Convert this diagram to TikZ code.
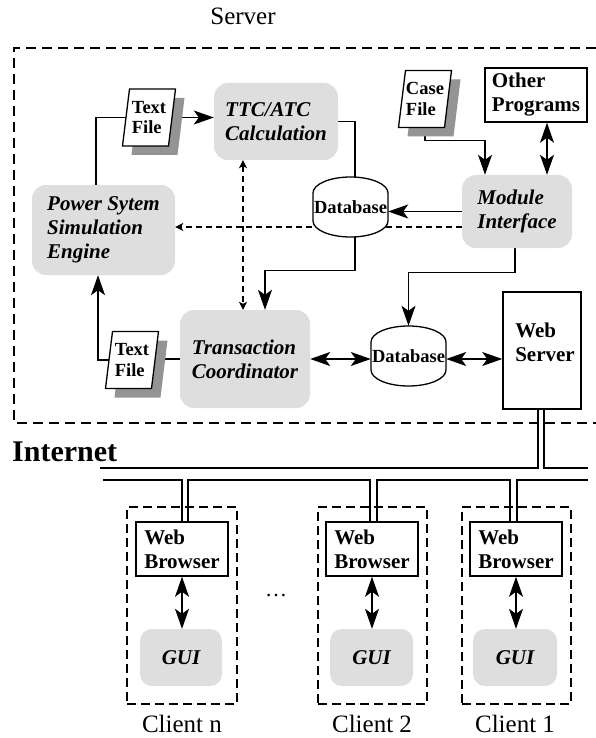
\documentclass[tikz,border=0pt]{standalone}
\usepackage{fontspec}
\setmainfont{Liberation Serif}
\usetikzlibrary{arrows.meta,backgrounds,calc}
\newcommand\docfile[4]{%
  \fill[docshade] (#2-19.5+9,#3-28.5+9) -- (#2+26.5+9,#3-28.5+9) -- (#2+19.5+9,#3+28.5+9) -- (#2-26.5+9,#3+28.5+9) -- cycle;
  \filldraw[docline] (#2-19.5,#3-28.5) -- (#2+26.5,#3-28.5) -- (#2+19.5,#3+28.5) -- (#2-26.5,#3+28.5) -- cycle;
  \node[doctext] (#1) at (#2,#3) {#4};}
\newcommand\dbshape[3]{%
  \filldraw[line width=1.3pt,fill=white] (#2-37.5,#3-14) arc[start angle=180,end angle=0,x radius=37.5pt,y radius=16pt] -- (#2+37.5,#3+14) arc[start angle=0,end angle=-180,x radius=37.5pt,y radius=16pt] -- cycle;
  \node[dbtext] (#1) at (#2,#3) {Database};}
\begin{document}
\begin{tikzpicture}[x=1pt,y=-1pt,
  >={Stealth[length=20pt,width=14pt,inset=5pt]},
  conn/.style={line width=1.3pt},
  dconn/.style={line width=1.3pt,dash pattern=on 6pt off 4pt},
  stip/.style={arrows={-Stealth[length=8pt,width=8pt,inset=2pt]}},
  dstip/.style={arrows={Stealth[length=8pt,width=8pt,inset=2pt]-Stealth[length=8pt,width=8pt,inset=2pt]}},
  gbox/.style={fill=black!13, rounded corners=14pt, inner sep=0pt, align=left, font=\fontsize{21}{24}\selectfont\bfseries\itshape},
  wbox/.style={draw, line width=1.5pt, fill=white, inner sep=0pt, align=left, font=\fontsize{21}{24}\selectfont\bfseries},
  btext/.style={inner sep=0pt, align=left, font=\fontsize{21}{24}\selectfont\bfseries},
  cbox/.style={draw, line width=1.5pt, dash pattern=on 9pt off 5pt, inner sep=0pt},
  lbl/.style={inner sep=0pt, font=\fontsize{25}{30}\selectfont},
  docshade/.style={fill=black!42},
  docline/.style={draw, line width=1.3pt, fill=white},
  doctext/.style={inner sep=0pt, minimum width=46pt, minimum height=57pt, align=left, font=\fontsize{18.5}{20.5}\selectfont\bfseries},
  dbtext/.style={inner sep=0pt, minimum width=75pt, minimum height=60pt, font=\fontsize{18.5}{20}\selectfont\bfseries},
  wire/.style={double, double distance=4.3pt, line width=2.2pt},
  inetline/.style={line width=2.5pt}
]
\useasboundingbox (0,0) rectangle (596,738);

% ---------- labels ----------
\node[inner sep=0pt, font=\fontsize{25}{25}\selectfont] (srv) at (243,16) {Server};
\node[inner sep=0pt, anchor=west, font=\fontsize{30}{30}\selectfont\bfseries] (inet) at (12,452) {Internet};

% ---------- server components ----------
\node[gbox, minimum width=124pt, minimum height=77pt] (ttc) at (276,121.5) {TTC/ATC\\Calculation};
\node[gbox, minimum width=143pt, minimum height=90pt] (psse) at (103.5,230) {Power Sytem\\Simulation\\Engine};
\node[gbox, minimum width=110pt, minimum height=73pt] (mi) at (517,211.5) {Module\\Interface};
\node[gbox, minimum width=130pt, minimum height=98pt] (tc) at (245,359) {Transaction\\Coordinator};
\node[wbox, minimum width=102pt, minimum height=54pt] (op) at (536,95) {Other\\Programs};
\node[wbox, minimum width=78pt, minimum height=117pt] (ws) at (542,350.5) {};
\node[btext] (wst) at (545,342) {Web\\Server};

\docfile{tf1}{149}{117.5}{Text\\File}
\docfile{cf}{425}{99}{Case\\File}
\docfile{tf2}{132}{360}{Text\\File}

\dbshape{db1}{350.5}{207}
\dbshape{db2}{408.5}{356}

% ---------- clients ----------
\node[cbox, minimum width=110pt, minimum height=197pt] (cn) at (182,605.5) {};
\node[cbox, minimum width=109pt, minimum height=197pt] (c2) at (372.5,605.5) {};
\node[cbox, minimum width=109pt, minimum height=197pt] (c1) at (516.5,605.5) {};

\node[wbox, minimum width=92pt, minimum height=54pt] (wbn) at (182,549) {Web\\Browser};
\node[wbox, minimum width=92pt, minimum height=54pt] (wb2) at (372,549) {Web\\Browser};
\node[wbox, minimum width=92pt, minimum height=54pt] (wb1) at (516,549) {Web\\Browser};

\node[gbox, rounded corners=12pt, minimum width=82pt, minimum height=57pt] (guin) at (181,657.5) {GUI};
\node[gbox, rounded corners=12pt, minimum width=83pt, minimum height=57pt] (gui2) at (371.5,657.5) {GUI};
\node[gbox, rounded corners=12pt, minimum width=84pt, minimum height=57pt] (gui1) at (515,657.5) {GUI};

\node[lbl] (ln) at (182,724) {Client n};
\node[lbl] (l2) at (372,724) {Client 2};
\node[lbl] (l1) at (515,724) {Client 1};
\node[inner sep=0pt, font=\fontsize{22}{22}\selectfont] (dots) at (276,596) {…};

% ---------- connectors ----------
\begin{pgfonlayer}{background}
\draw[line width=1.5pt, dash pattern=on 10pt off 6pt] (596,48) -- (14,48) -- (14,423) -- (596,423);

\draw[conn] ([xshift=-7.5pt]psse.north) |- (tf1.west);
\draw[conn,->] (tf1.east) -- (tf1.east -| ttc.west);
\draw[conn] (ttc.east) -| ([xshift=4.5pt]db1.north);
\draw[conn,->] (cf.south) -- ++(0,13) -| ([xshift=-32pt]mi.north);
\coordinate (opx) at ([xshift=11pt]op.south);
\draw[conn,<->] (opx) -- (opx |- mi.north);
\draw[conn,->] (mi.west) -- (mi.west -| db1.east);
\coordinate (dsh) at ([yshift=-15.5pt]mi.west);
\draw[dconn,stip] (dsh) -- (dsh -| psse.east);
\coordinate (vd) at ([xshift=-33pt]ttc.south);
\draw[dconn,dstip] (vd) -- (vd |- tc.north);
\draw[conn,->] ([xshift=4.5pt]db1.south) -- ++(0,33) -| ([xshift=20pt]tc.north);
\draw[conn,->] ([xshift=-2pt]mi.south) -- ++(0,24) -| (db2.north);
\draw[conn,<->] (tc.east) -- (tc.east -| db2.west);
\draw[conn,<->] (db2.east |- tc.east) -- (tc.east -| ws.west);
\draw[conn] (tc.west) -- (tc.west -| tf2.center);
\draw[conn,->] (tf2.west) -| ([xshift=-5.5pt]psse.south);

% internet
\coordinate (i1l) at (100,468); \coordinate (i1r) at (588,468);
\coordinate (i2l) at (103,480); \coordinate (i2r) at (588,480);
\draw[inetline] (i1l) -- (i1r);
\draw[inetline] (i2l) -- (i2r);
\coordinate (i1b) at (0,469.25);
\coordinate (i2t) at (0,478.75);
\coordinate (wsx) at ([xshift=-1pt]ws.south);
\draw[wire] (wsx) -- (wsx |- i1b);
\coordinate (pn) at ([xshift=3pt]wbn.north);
\coordinate (p2) at ([xshift=1.5pt]wb2.north);
\coordinate (p1) at ([xshift=-2.5pt]wb1.north);
\draw[wire] (pn |- i2t) -- (pn);
\draw[wire] (p2 |- i2t) -- (p2);
\draw[wire] (p1 |- i2t) -- (p1);

\draw[conn,<->] (wbn.south) -- (wbn.south |- guin.north);
\draw[conn,<->] (wb2.south) -- (wb2.south |- gui2.north);
\draw[conn,<->] (wb1.south) -- (wb1.south |- gui1.north);
\end{pgfonlayer}
\end{tikzpicture}
\end{document}
